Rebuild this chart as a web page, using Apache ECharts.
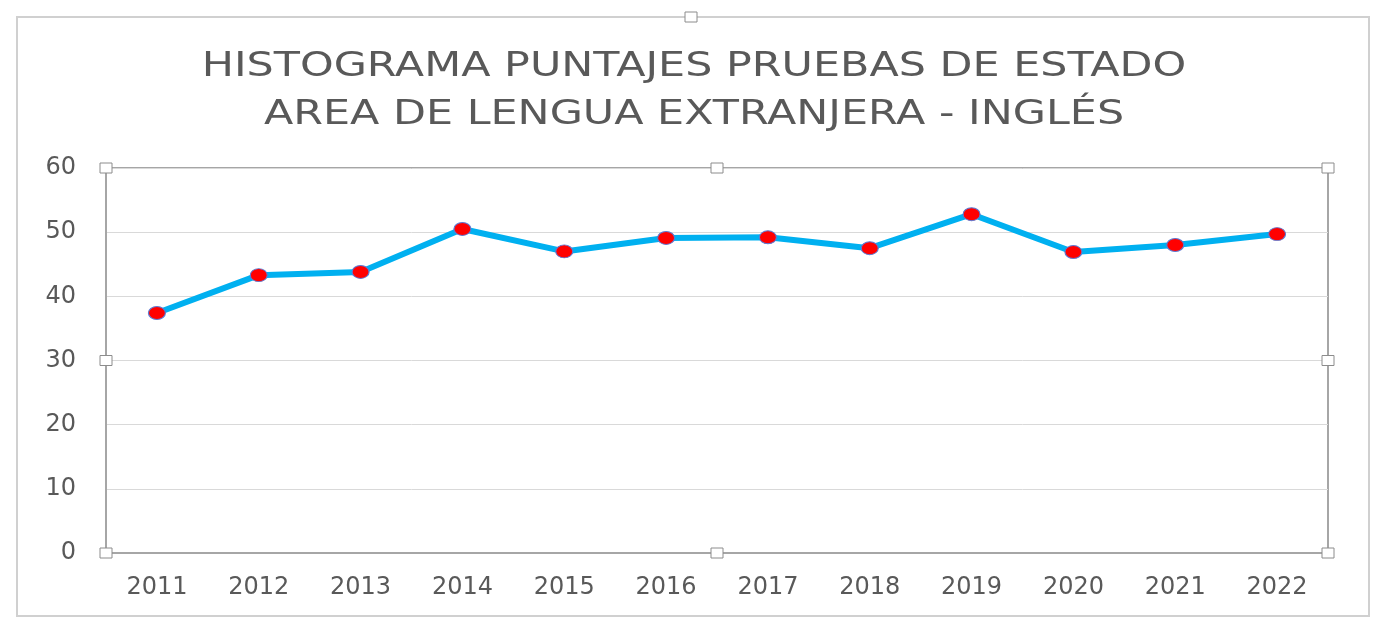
<!DOCTYPE html>
<html><head><meta charset="utf-8">
<script src="https://cdn.jsdelivr.net/npm/echarts@6/dist/echarts.min.js"></script>
<style>html,body{margin:0;padding:0;background:#fff}#c{width:1388px;height:621px}</style>
</head><body><div id="c"></div>
<script>
const titleLines = ['HISTOGRAMA PUNTAJES PRUEBAS DE ESTADO', 'AREA DE LENGUA EXTRANJERA - INGLÉS'];
const years = ['2011','2012','2013','2014','2015','2016','2017','2018','2019','2020','2021','2022'];
const scores = [37.4, 43.3, 43.8, 50.5, 47.0, 49.1, 49.2, 47.5, 52.8, 46.9, 48.0, 49.7];
const yTicks = [0, 10, 20, 30, 40, 50, 60];

const G = {left: 106, right: 60, top: 168, bottom: 68};
const W = 1388, H = 621;
const chart = echarts.init(document.getElementById('c'));
const px0 = G.left, px1 = W - G.right, py0 = G.top, py1 = H - G.bottom;
function handle(x, y) {
  return {type: 'rect', shape: {x: x - 6, y: y - 5, width: 12, height: 10},
    style: {fill: '#fff', stroke: '#8c8c8c', lineWidth: 1}, z: 100};
}
chart.setOption({
  animation: false,
  backgroundColor: '#fff',
  grid: {left: G.left, right: G.right, top: G.top, bottom: G.bottom, show: true,
    borderColor: '#a6a6a6', borderWidth: 2, containLabel: false},
  xAxis: {
    type: 'category', data: years, boundaryGap: true,
    axisLine: {show: true, lineStyle: {color: '#a6a6a6', width: 2}},
    axisTick: {show: false},
    axisLabel: {fontFamily: 'DejaVu Sans', fontSize: 24, color: '#595959', margin: 23}
  },
  yAxis: {
    type: 'value', min: yTicks[0], max: yTicks[yTicks.length - 1], interval: 10,
    axisLine: {show: true, lineStyle: {color: '#a6a6a6', width: 2}},
    axisTick: {show: false},
    splitLine: {lineStyle: {color: '#d9d9d9', width: 1}},
    axisLabel: {fontFamily: 'DejaVu Sans', fontSize: 24, color: '#595959', margin: 30}
  },
  series: [{
    type: 'line', data: scores,
    lineStyle: {color: '#00b0f0', width: 6},
    symbol: 'circle', symbolSize: [17, 13],
    itemStyle: {color: '#ff0000', borderColor: '#5b7bd5', borderWidth: 1},
    z: 10
  }],
  graphic: [
    {type: 'rect', shape: {x: 17, y: 17, width: 1352, height: 599},
      style: {fill: 'none', stroke: '#d0d0d0', lineWidth: 2}, z: 0},
    {type: 'text', x: W / 2, y: 67, scaleX: 1.26, z: 50,
      style: {text: titleLines[0], fill: '#595959', font: '34px "DejaVu Sans"',
        textAlign: 'center', textVerticalAlign: 'middle'}},
    {type: 'text', x: W / 2, y: 115, scaleX: 1.26, z: 50,
      style: {text: titleLines[1], fill: '#595959', font: '34px "DejaVu Sans"',
        textAlign: 'center', textVerticalAlign: 'middle'}},
    handle(px0, py0), handle((px0 + px1) / 2, py0), handle(px1, py0),
    handle(px0, (py0 + py1) / 2), handle(px1, (py0 + py1) / 2),
    handle(px0, py1), handle((px0 + px1) / 2, py1), handle(px1, py1),
    handle(691, 17)
  ]
});
</script></body></html>
